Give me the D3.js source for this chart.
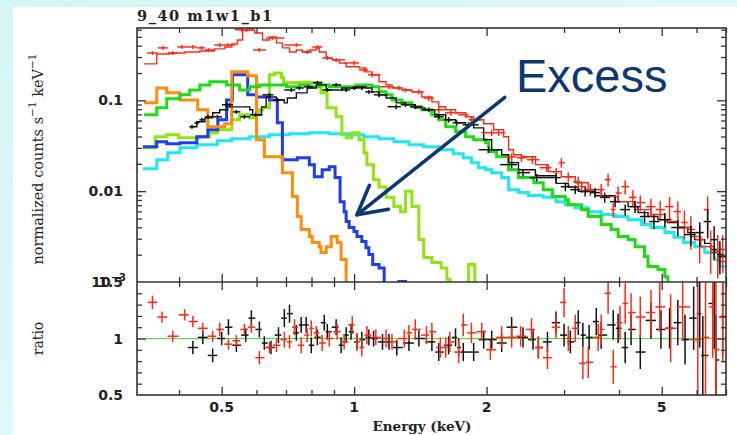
<!DOCTYPE html>
<html>
<head>
<meta charset="utf-8">
<script src="https://cdn.jsdelivr.net/npm/d3@7"></script>
<style>
  body { margin: 0; }
  svg { display: block; }
</style>
</head>
<body>
<div class="canvas"></div>
<script>
// ---- data (energy in keV) ----
const plotTitle = "9_40 m1w1_b1";

// model step curves: [bin start energy, normalized counts]
const redModel = [[0.333,0.252],[0.356,0.324],[0.381,0.332],[0.412,0.341],[0.446,0.350],[0.482,0.369],[0.508,0.387],[0.527,0.418],[0.543,0.462],[0.558,0.595],[0.579,0.620],[0.588,0.595],[0.594,0.552],[0.619,0.462],[0.642,0.499],[0.666,0.429],[0.687,0.378],[0.713,0.341],[0.739,0.359],[0.763,0.341],[0.791,0.359],[0.820,0.378],[0.833,0.341],[0.864,0.293],[0.892,0.279],[0.925,0.258],[0.959,0.234],[1.026,0.228],[1.064,0.206],[1.098,0.191],[1.139,0.160],[1.182,0.148],[1.219,0.137],[1.284,0.130],[1.353,0.124],[1.425,0.109],[1.502,0.0963],[1.557,0.0851],[1.615,0.0787],[1.701,0.0729],[1.792,0.0659],[1.869,0.0611],[1.970,0.0552],[2.075,0.0474],[2.186,0.0397],[2.244,0.0286],[2.302,0.0252],[2.401,0.0239],[2.582,0.0196],[2.763,0.0164],[2.957,0.0144],[3.181,0.0124],[3.404,0.0104],[3.643,0.00872],[3.980,0.00767],[4.349,0.00627],[4.727,0.00553],[5.083,0.00463],[5.440,0.00398],[5.825,0.00317],[6.134,0.00245],[6.461,0.00211],[6.705,0.00168]];

const blackModel = [[0.423,0.0512],[0.439,0.0581],[0.458,0.0642],[0.477,0.0729],[0.495,0.0787],[0.516,0.0848],[0.549,0.0848],[0.579,0.0787],[0.588,0.0693],[0.616,0.0848],[0.631,0.109],[0.666,0.101],[0.694,0.0939],[0.705,0.106],[0.739,0.121],[0.782,0.137],[0.820,0.148],[0.864,0.130],[0.937,0.137],[1.011,0.141],[1.064,0.137],[1.098,0.124],[1.139,0.115],[1.182,0.106],[1.246,0.0939],[1.308,0.0895],[1.377,0.0827],[1.449,0.0787],[1.524,0.0693],[1.615,0.0611],[1.701,0.0566],[1.792,0.0538],[1.869,0.0498],[1.970,0.0368],[2.054,0.0286],[2.164,0.0252],[2.244,0.0206],[2.363,0.0172],[2.582,0.0148],[2.876,0.0122],[3.067,0.0111],[3.231,0.0100],[3.528,0.00892],[3.918,0.00767],[4.193,0.00676],[4.417,0.00581],[4.654,0.00526],[4.902,0.00486],[5.163,0.00452],[5.440,0.00398],[5.733,0.00350],[5.940,0.00293],[6.260,0.00266],[6.461,0.00228],[6.705,0.00190]];

const greenModel = [[0.333,0.0693],[0.356,0.0827],[0.375,0.104],[0.402,0.115],[0.423,0.130],[0.446,0.148],[0.470,0.160],[0.513,0.148],[0.549,0.130],[0.579,0.141],[0.609,0.148],[0.702,0.141],[0.751,0.148],[0.791,0.141],[0.833,0.148],[0.878,0.141],[1.011,0.148],[1.098,0.141],[1.139,0.124],[1.182,0.115],[1.219,0.101],[1.284,0.0939],[1.353,0.0851],[1.425,0.0787],[1.502,0.0693],[1.557,0.0611],[1.615,0.0512],[1.701,0.0451],[1.792,0.0397],[1.869,0.0368],[1.990,0.0342],[2.022,0.0272],[2.108,0.0239],[2.244,0.0172],[2.363,0.0141],[2.561,0.0124],[2.690,0.0104],[2.822,0.00872],[3.020,0.00807],[3.067,0.00711],[3.286,0.00627],[3.404,0.00526],[3.643,0.00429],[3.837,0.00378],[3.980,0.00317],[4.193,0.00293],[4.349,0.00245],[4.570,0.00191],[4.654,0.00148],[4.902,0.00137],[5.083,0.00114],[5.163,0.0008]];

const cyanModel = [[0.331,0.0177],[0.356,0.0222],[0.377,0.0265],[0.402,0.0300],[0.439,0.0325],[0.489,0.0359],[0.527,0.0378],[0.579,0.0397],[0.642,0.0418],[0.713,0.0429],[0.791,0.0440],[0.878,0.0429],[0.974,0.0418],[1.053,0.0397],[1.139,0.0378],[1.231,0.0350],[1.332,0.0325],[1.439,0.0309],[1.557,0.0286],[1.681,0.0258],[1.770,0.0234],[1.847,0.0206],[1.918,0.0181],[1.990,0.0172],[2.054,0.0160],[2.164,0.0141],[2.244,0.0104],[2.363,0.00966],[2.490,0.00894],[2.690,0.00855],[2.876,0.00767],[3.020,0.00711],[3.181,0.00658],[3.404,0.00595],[3.643,0.00553],[3.918,0.00526],[4.193,0.00486],[4.500,0.00429],[4.727,0.00398],[5.083,0.00350],[5.330,0.00310],[5.610,0.00272],[5.940,0.00245],[6.260,0.00211],[6.580,0.00177],[6.780,0.00148]];

const orangeModel = [[0.333,0.0939],[0.356,0.137],[0.375,0.121],[0.402,0.101],[0.441,0.0787],[0.465,0.0512],[0.508,0.0552],[0.527,0.206],[0.573,0.186],[0.600,0.0368],[0.625,0.0239],[0.687,0.0160],[0.724,0.00872],[0.743,0.00526],[0.758,0.00378],[0.791,0.00317],[0.803,0.00272],[0.833,0.00245],[0.841,0.00211],[0.864,0.00245],[0.887,0.00317],[0.915,0.00272],[0.934,0.00177],[0.959,0.0008]];

const blueModel = [[0.331,0.0309],[0.356,0.0350],[0.375,0.0333],[0.402,0.0342],[0.439,0.0397],[0.465,0.0474],[0.490,0.0611],[0.513,0.101],[0.529,0.191],[0.573,0.115],[0.600,0.109],[0.642,0.101],[0.669,0.0566],[0.687,0.0222],[0.743,0.0234],[0.791,0.0196],[0.812,0.0144],[0.846,0.0172],[0.878,0.0186],[0.905,0.0141],[0.929,0.00767],[0.949,0.00595],[0.959,0.00463],[0.974,0.00398],[0.999,0.00359],[1.015,0.00317],[1.041,0.00280],[1.064,0.00238],[1.080,0.00201],[1.102,0.00156],[1.139,0.00143],[1.170,0.0008],[1.264,0.00101],[1.308,0.0008]];

const limeModel = [[0.331,0.0300],[0.353,0.0397],[0.375,0.0418],[0.399,0.0387],[0.446,0.0397],[0.470,0.0440],[0.489,0.0474],[0.527,0.0611],[0.549,0.0693],[0.579,0.0642],[0.600,0.0693],[0.609,0.0787],[0.619,0.0827],[0.642,0.191],[0.659,0.200],[0.683,0.177],[0.691,0.157],[0.841,0.121],[0.868,0.0827],[0.910,0.0659],[0.938,0.0418],[0.959,0.0387],[0.988,0.0440],[1.026,0.0368],[1.053,0.0265],[1.069,0.0196],[1.107,0.0134],[1.139,0.0111],[1.182,0.00855],[1.231,0.00676],[1.275,0.00595],[1.308,0.0100],[1.353,0.00676],[1.403,0.00293],[1.439,0.00186],[1.502,0.00164],[1.577,0.00143],[1.625,0.00107],[1.652,0.0008],[1.820,0.00156],[1.880,0.0008]];

// spectra: [energy, normalized counts, relative error]
const redSpec = [[0.348,0.332,0.05],[0.368,0.378,0.05],[0.387,0.332,0.05],[0.406,0.387,0.05],[0.430,0.387,0.05],[0.450,0.378,0.05],[0.467,0.359,0.05],[0.495,0.407,0.05],[0.516,0.407,0.05],[0.555,0.600,0.05],[0.570,0.595,0.05],[0.609,0.359,0.05],[0.652,0.486,0.05],[0.739,0.407,0.05],[0.782,0.341,0.05],[0.825,0.387,0.05],[0.869,0.293,0.05],[0.910,0.279,0.05],[1.000,0.258,0.06],[1.053,0.216,0.06],[1.098,0.191,0.06],[1.200,0.141,0.06],[1.264,0.137,0.06],[1.308,0.130,0.06],[1.403,0.124,0.06],[1.478,0.106,0.07],[1.557,0.0787,0.07],[1.660,0.0729,0.07],[1.792,0.0693,0.07],[1.847,0.0611,0.07],[2.054,0.0440,0.08],[2.130,0.0440,0.08],[2.280,0.0239,0.10],[2.400,0.0233,0.10],[2.540,0.0222,0.10],[2.740,0.0181,0.10],[2.880,0.0164,0.10],[2.957,0.0206,0.12],[3.067,0.0144,0.12],[3.231,0.0127,0.14],[3.290,0.0112,0.14],[3.440,0.0104,0.15],[3.643,0.0104,0.15],[3.777,0.0134,0.16],[3.880,0.00627,0.18],[3.980,0.00955,0.18],[4.130,0.0112,0.18],[4.300,0.00855,0.20],[4.470,0.00750,0.20],[4.727,0.00676,0.22],[4.960,0.00627,0.25],[5.210,0.00676,0.28],[5.440,0.00595,0.30],[5.630,0.00452,0.35],[5.825,0.00378,0.40],[6.100,0.00293,0.45],[6.360,0.00627,0.40],[6.461,0.00245,0.50],[6.705,0.00219,0.50],[6.880,0.00228,0.45]];

const blackSpec = [[0.428,0.0512,0.05],[0.439,0.0566,0.05],[0.451,0.0611,0.05],[0.465,0.0659,0.05],[0.489,0.0659,0.05],[0.513,0.0895,0.05],[0.521,0.0895,0.05],[0.540,0.0747,0.05],[0.563,0.0659,0.05],[0.597,0.0693,0.05],[0.642,0.115,0.05],[0.669,0.101,0.05],[0.720,0.130,0.05],[0.751,0.137,0.05],[0.787,0.141,0.05],[0.825,0.156,0.05],[0.869,0.130,0.05],[0.910,0.148,0.05],[0.959,0.130,0.05],[1.000,0.137,0.05],[1.041,0.137,0.05],[1.080,0.124,0.05],[1.139,0.115,0.06],[1.246,0.0851,0.06],[1.308,0.0895,0.06],[1.377,0.0851,0.06],[1.478,0.0787,0.06],[1.557,0.0659,0.06],[1.640,0.0611,0.07],[1.710,0.0566,0.07],[1.820,0.0538,0.07],[2.022,0.0286,0.08],[2.280,0.0196,0.09],[2.420,0.0160,0.09],[2.600,0.0141,0.10],[2.876,0.0141,0.10],[3.020,0.0112,0.11],[3.181,0.0104,0.11],[3.350,0.0099,0.12],[3.528,0.00964,0.12],[3.710,0.00855,0.13],[3.918,0.00767,0.13],[4.130,0.00627,0.14],[4.349,0.00676,0.15],[4.570,0.00526,0.16],[4.800,0.00463,0.17],[5.083,0.00486,0.18],[5.440,0.00398,0.20],[5.825,0.00333,0.25],[6.100,0.00350,0.30],[6.360,0.00463,0.35],[6.580,0.00293,0.40],[6.780,0.00201,0.40]];

// ratio panel: [energy, data/model, error]
const redRatio = [[0.348,1.32,0.06],[0.366,1.19,0.05],[0.387,1.02,0.05],[0.412,1.21,0.05],[0.430,1.15,0.05],[0.453,1.09,0.05],[0.477,1.02,0.05],[0.495,1.08,0.06],[0.518,0.95,0.05],[0.540,0.98,0.05],[0.563,1.08,0.05],[0.584,1.10,0.05],[0.609,0.83,0.06],[0.642,0.92,0.05],[0.666,0.94,0.06],[0.694,0.99,0.07],[0.713,0.97,0.06],[0.732,1.10,0.07],[0.758,0.94,0.07],[0.782,1.03,0.06],[0.799,1.09,0.07],[0.820,1.05,0.06],[0.846,0.96,0.07],[0.878,1.00,0.07],[0.915,1.06,0.07],[0.949,0.97,0.07],[0.990,1.12,0.08],[1.015,0.97,0.08],[1.041,0.92,0.08],[1.069,1.03,0.08],[1.120,1.01,0.07],[1.182,1.00,0.08],[1.219,0.97,0.07],[1.300,1.00,0.08],[1.332,1.05,0.07],[1.377,1.08,0.09],[1.460,1.03,0.08],[1.502,1.06,0.08],[1.570,0.92,0.09],[1.615,0.92,0.09],[1.650,0.97,0.09],[1.728,0.88,0.10],[1.770,1.12,0.10],[1.847,1.05,0.09],[1.950,1.06,0.08],[2.040,0.90,0.09],[2.164,1.01,0.10],[2.280,1.01,0.09],[2.390,1.02,0.09],[2.530,1.08,0.10],[2.622,0.92,0.10],[2.750,0.83,0.10],[2.876,1.10,0.10],[3.000,1.32,0.13],[3.067,1.00,0.11],[3.181,1.09,0.12],[3.310,0.78,0.14],[3.404,0.79,0.14],[3.586,1.01,0.12],[3.643,1.08,0.13],[3.777,1.40,0.18],[3.880,0.75,0.15],[4.020,1.14,0.15],[4.130,1.31,0.18],[4.260,1.23,0.17],[4.470,1.19,0.18],[4.727,1.23,0.20],[4.950,1.28,0.22],[5.240,1.09,0.30],[5.580,1.28,0.30],[6.040,0.99,0.55],[6.290,1.01,0.50],[6.530,1.28,0.45],[6.640,0.90,0.60],[6.880,1.19,0.40]];

const blackRatio = [[0.430,0.92,0.06],[0.453,1.01,0.06],[0.477,0.85,0.06],[0.500,1.00,0.06],[0.518,1.10,0.07],[0.540,0.94,0.06],[0.567,1.03,0.06],[0.584,1.18,0.07],[0.609,1.08,0.07],[0.625,0.96,0.06],[0.647,0.92,0.06],[0.673,1.03,0.07],[0.694,1.18,0.08],[0.713,1.22,0.08],[0.739,1.05,0.07],[0.758,1.12,0.07],[0.778,1.12,0.07],[0.799,0.94,0.07],[0.825,1.01,0.07],[0.855,1.14,0.07],[0.869,1.06,0.07],[0.910,1.10,0.07],[0.934,0.94,0.07],[0.959,1.03,0.07],[0.984,1.06,0.07],[1.015,0.97,0.07],[1.041,0.99,0.07],[1.080,1.01,0.07],[1.107,1.00,0.07],[1.160,0.97,0.07],[1.200,0.97,0.07],[1.250,0.92,0.07],[1.332,0.96,0.07],[1.403,1.00,0.07],[1.502,0.97,0.08],[1.557,0.88,0.08],[1.640,0.94,0.08],[1.700,1.01,0.08],[1.728,0.92,0.08],[1.770,0.88,0.08],[1.869,0.88,0.08],[1.970,0.99,0.08],[2.054,0.99,0.08],[2.164,0.96,0.08],[2.280,1.10,0.09],[2.420,1.01,0.09],[2.550,0.99,0.09],[2.622,0.92,0.09],[2.750,0.97,0.09],[2.876,1.14,0.10],[3.000,1.03,0.10],[3.100,0.97,0.10],[3.231,1.14,0.11],[3.310,1.03,0.11],[3.420,1.01,0.11],[3.550,1.15,0.12],[3.643,1.03,0.12],[3.880,1.12,0.13],[3.980,1.09,0.13],[4.130,0.92,0.14],[4.260,1.08,0.14],[4.470,0.88,0.15],[4.727,1.16,0.16],[4.980,1.08,0.17],[5.210,1.09,0.18],[5.440,1.14,0.20],[5.650,0.99,0.22],[5.910,1.18,0.28],[6.100,1.22,0.30],[6.200,0.85,0.35],[6.580,1.31,0.40],[6.640,0.81,0.40],[6.880,1.19,0.35]];

// axis ticks
const xMajorTicks = [0.5, 1, 2, 5];
const xMinorTicks = [0.4, 0.6, 0.7, 0.8, 0.9, 3, 4, 6, 7];
const yMajorTicks = [0.001, 0.01, 0.1];
const yMinorTicks = [0.002,0.003,0.004,0.005,0.006,0.007,0.008,0.009,0.02,0.03,0.04,0.05,0.06,0.07,0.08,0.09,0.2,0.3,0.4,0.5,0.6];
const rMajorTicks = [0.5, 1, 1.5];
const rMinorTicks = [0.6, 0.7, 0.8, 0.9, 1.1, 1.2, 1.3, 1.4];

// ---- layout ----
const svgWidth = 737, svgHeight = 435;
const plot = { left: 137, right: 726, top: 28, mid: 282, bottom: 395 };
const axisColor = "#333";
const redColor = "#ff2a14";

const svg = d3.select('.canvas').append('svg')
  .attr("width", svgWidth)
  .attr("height", svgHeight);

// background: pale cyan frame, white page
const defs = svg.append('defs');
const grad = defs.append('linearGradient').attr("id", "bg")
  .attr("x1", "0").attr("y1", "0").attr("x2", "1").attr("y2", "1");
grad.append('stop').attr("offset", "0").attr("stop-color", "#d4f5f7");
grad.append('stop').attr("offset", "1").attr("stop-color", "#e8fbfb");
svg.append('rect').attr("width", svgWidth).attr("height", svgHeight).attr("fill", "url(#bg)");
svg.append('rect').attr("x", 13).attr("y", 7)
  .attr("width", svgWidth - 13).attr("height", svgHeight - 7).attr("fill", "#fff");

defs.append('clipPath').attr("id", "clipTop").append('rect')
  .attr("x", plot.left).attr("y", plot.top)
  .attr("width", plot.right - plot.left).attr("height", plot.mid - plot.top);
defs.append('clipPath').attr("id", "clipBot").append('rect')
  .attr("x", plot.left).attr("y", plot.mid)
  .attr("width", plot.right - plot.left).attr("height", plot.bottom - plot.mid);

// scales
const xScale = d3.scaleLog().domain([0.321, 7.0]).range([plot.left, plot.right]);
const yScale = d3.scaleLog().domain([0.001, 0.626]).range([plot.mid, plot.top]);
const rScale = d3.scaleLinear().domain([0.5, 1.5]).range([plot.bottom, plot.mid]);

// ---- top panel: models ----
const topG = svg.append('g').attr("clip-path", "url(#clipTop)");
const stepLine = d3.line()
  .x(d => xScale(d[0]))
  .y(d => yScale(d[1]))
  .curve(d3.curveStepAfter);

const models = [
  { data: cyanModel, color: "#1ee8f0", width: 3 },
  { data: limeModel, color: "#8fe60f", width: 3 },
  { data: blueModel, color: "#1f3cf5", width: 3 },
  { data: orangeModel, color: "#ff8c0a", width: 3 },
  { data: greenModel, color: "#1edc14", width: 3 },
  { data: blackModel, color: "#111", width: 1.4 },
  { data: redModel, color: redColor, width: 1.4 }
];
models.forEach(m => {
  const pts = m.data.concat([[7.0, m.data[m.data.length - 1][1]]]);
  topG.append('path')
    .attr("d", stepLine(pts))
    .attr("fill", "none")
    .attr("stroke", m.color)
    .attr("stroke-width", m.width)
    .attr("stroke-linejoin", "miter");
});

// error-bar crosses; x extent spans half way (in log) to the neighbours
function drawCrosses(g, pts, yOf, color, yLo, yHi) {
  pts.forEach((p, i) => {
    const e = p[0];
    const prev = i > 0 ? pts[i - 1][0] : e * e / pts[i + 1][0];
    const next = i < pts.length - 1 ? pts[i + 1][0] : e * e / pts[i - 1][0];
    const lo = Math.sqrt(prev * e), hi = Math.sqrt(next * e);
    g.append('line')
      .attr("x1", xScale(lo)).attr("x2", xScale(hi))
      .attr("y1", yOf(p[1])).attr("y2", yOf(p[1]))
      .attr("stroke", color).attr("stroke-width", 1.5);
    g.append('line')
      .attr("x1", xScale(e)).attr("x2", xScale(e))
      .attr("y1", yOf(yLo(p))).attr("y2", yOf(yHi(p)))
      .attr("stroke", color).attr("stroke-width", 1.5);
  });
}

drawCrosses(topG, redSpec, yScale, redColor, p => p[1] * (1 - p[2]), p => p[1] * (1 + p[2]));
drawCrosses(topG, blackSpec, yScale, "#111", p => p[1] * (1 - p[2]), p => p[1] * (1 + p[2]));

// ---- bottom panel: ratio ----
const botG = svg.append('g').attr("clip-path", "url(#clipBot)");
botG.append('line')
  .attr("x1", plot.left).attr("x2", plot.right)
  .attr("y1", rScale(1)).attr("y2", rScale(1))
  .attr("stroke", "#3ee83e").attr("stroke-width", 1.2);
drawCrosses(botG, blackRatio, rScale, "#111", p => p[1] - p[2], p => p[1] + p[2]);
drawCrosses(botG, redRatio, rScale, redColor, p => p[1] - p[2], p => p[1] + p[2]);

// ---- axes (ticks inward on every side) ----
function tickAxis(axisFn, scale, values, size, transform) {
  svg.append('g')
    .attr("transform", transform)
    .call(axisFn(scale).tickValues(values).tickSize(size).tickSizeOuter(0).tickFormat(""))
    .call(g => g.select(".domain").remove())
    .call(g => g.selectAll(".tick line").attr("stroke", axisColor).attr("stroke-width", 1.3));
}

// x ticks: top edge, middle line (both ways), bottom edge
tickAxis(d3.axisBottom, xScale, xMajorTicks, 8, `translate(0,${plot.top})`);
tickAxis(d3.axisBottom, xScale, xMinorTicks, 5, `translate(0,${plot.top})`);
tickAxis(d3.axisTop, xScale, xMajorTicks, 8, `translate(0,${plot.mid})`);
tickAxis(d3.axisTop, xScale, xMinorTicks, 5, `translate(0,${plot.mid})`);
tickAxis(d3.axisBottom, xScale, xMajorTicks, 8, `translate(0,${plot.mid})`);
tickAxis(d3.axisBottom, xScale, xMinorTicks, 5, `translate(0,${plot.mid})`);
tickAxis(d3.axisTop, xScale, xMajorTicks, 8, `translate(0,${plot.bottom})`);
tickAxis(d3.axisTop, xScale, xMinorTicks, 5, `translate(0,${plot.bottom})`);

// y ticks top panel
tickAxis(d3.axisRight, yScale, yMajorTicks.slice(1), 9, `translate(${plot.left},0)`);
tickAxis(d3.axisRight, yScale, yMinorTicks, 5, `translate(${plot.left},0)`);
tickAxis(d3.axisLeft, yScale, yMajorTicks.slice(1), 9, `translate(${plot.right},0)`);
tickAxis(d3.axisLeft, yScale, yMinorTicks, 5, `translate(${plot.right},0)`);

// y ticks ratio panel
tickAxis(d3.axisRight, rScale, [1], 9, `translate(${plot.left},0)`);
tickAxis(d3.axisRight, rScale, rMinorTicks, 5, `translate(${plot.left},0)`);
tickAxis(d3.axisLeft, rScale, [1], 9, `translate(${plot.right},0)`);
tickAxis(d3.axisLeft, rScale, rMinorTicks, 5, `translate(${plot.right},0)`);

// frames
svg.append('rect')
  .attr("x", plot.left).attr("y", plot.top)
  .attr("width", plot.right - plot.left).attr("height", plot.bottom - plot.top)
  .attr("fill", "none").attr("stroke", axisColor).attr("stroke-width", 1.6);
svg.append('line')
  .attr("x1", plot.left).attr("x2", plot.right)
  .attr("y1", plot.mid).attr("y2", plot.mid)
  .attr("stroke", axisColor).attr("stroke-width", 1.6);

// ---- labels ----
const labelFont = "'DejaVu Sans', sans-serif";
const serifFont = "'DejaVu Serif', serif";

svg.append('g').selectAll('text')
  .data(xMajorTicks)
  .enter().append('text')
  .attr("x", d => xScale(d))
  .attr("y", plot.bottom + 17)
  .attr("text-anchor", "middle")
  .style("font-family", labelFont).style("font-size", "14px").style("font-weight", "bold")
  .attr("fill", "#222")
  .text(d => d);

const yLabelText = { 0.1: "0.1", 0.01: "0.01" };
svg.append('g').selectAll('text')
  .data([0.1, 0.01])
  .enter().append('text')
  .attr("x", 123)
  .attr("y", d => yScale(d) + 5)
  .attr("text-anchor", "end")
  .style("font-family", labelFont).style("font-size", "14px").style("font-weight", "bold")
  .attr("fill", "#222")
  .text(d => yLabelText[d]);

// the 10^-3 label and the 1.5 label share the same spot, as in the original plot
const expLabel = svg.append('text')
  .attr("x", 126).attr("y", yScale(0.001) + 5)
  .attr("text-anchor", "end")
  .style("font-family", labelFont).style("font-size", "14px").style("font-weight", "bold")
  .attr("fill", "#222");
expLabel.append('tspan').text("10");
expLabel.append('tspan').attr("dy", -6).style("font-size", "10px").text("−3");

svg.append('g').selectAll('text')
  .data(rMajorTicks)
  .enter().append('text')
  .attr("x", 123)
  .attr("y", d => rScale(d) + 5)
  .attr("text-anchor", "end")
  .style("font-family", labelFont).style("font-size", "14px").style("font-weight", "bold")
  .attr("fill", "#222")
  .text(d => d);

// title
svg.append('text')
  .attr("x", plot.left).attr("y", 21)
  .attr("textLength", 135).attr("lengthAdjust", "spacing")
  .style("font-family", serifFont).style("font-size", "14.5px").style("font-weight", "bold")
  .attr("fill", "#222")
  .text(plotTitle);

// axis titles
svg.append('text')
  .attr("x", 422).attr("y", 431)
  .attr("text-anchor", "middle")
  .style("font-family", serifFont).style("font-size", "13.5px").style("font-weight", "bold")
  .attr("fill", "#222")
  .text("Energy (keV)");

const yTitle = svg.append('text')
  .attr("transform", `translate(43,${(plot.top + plot.mid) / 2 + 4}) rotate(-90)`)
  .attr("text-anchor", "middle")
  .style("font-family", serifFont).style("font-size", "14.5px")
  .attr("fill", "#222");
yTitle.append('tspan').text("normalized counts s");
yTitle.append('tspan').attr("dy", -7).style("font-size", "10.5px").text("−1");
yTitle.append('tspan').attr("dy", 7).text(" keV");
yTitle.append('tspan').attr("dy", -7).style("font-size", "10.5px").text("−1");

svg.append('text')
  .attr("transform", `translate(43,${rScale(1)}) rotate(-90)`)
  .attr("text-anchor", "middle")
  .style("font-family", serifFont).style("font-size", "14px")
  .attr("fill", "#222")
  .text("ratio");

// ---- annotation ----
const navy = "#0c3773";
svg.append('text')
  .attr("x", 516).attr("y", 92)
  .style("font-family", "'Liberation Sans', Arial, sans-serif").style("font-size", "47px")
  .attr("fill", navy)
  .text("Excess");

// arrow pointing at the blue component, anchored in data space
const arrowFrom = [xScale(2.2), yScale(0.108)];
const arrowTo = [xScale(1.015), yScale(0.0055)];
const arrowG = svg.append('g')
  .attr("stroke", navy).attr("stroke-width", 3.5).attr("stroke-linecap", "round").attr("fill", "none");
arrowG.append('line')
  .attr("x1", arrowFrom[0]).attr("y1", arrowFrom[1])
  .attr("x2", arrowTo[0]).attr("y2", arrowTo[1]);
const ang = Math.atan2(arrowFrom[1] - arrowTo[1], arrowFrom[0] - arrowTo[0]);
[-0.5, 0.5].forEach(da => {
  arrowG.append('line')
    .attr("x1", arrowTo[0]).attr("y1", arrowTo[1])
    .attr("x2", arrowTo[0] + 32 * Math.cos(ang + da))
    .attr("y2", arrowTo[1] + 32 * Math.sin(ang + da));
});
</script>
</body>
</html>
